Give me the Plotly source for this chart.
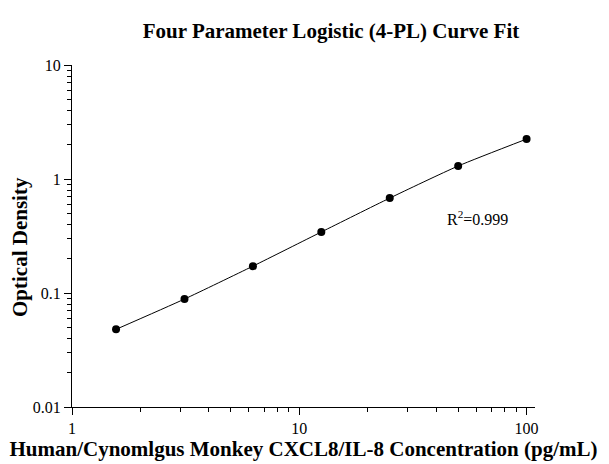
import plotly.graph_objects as go

concentration = [1.5625, 3.125, 6.25, 12.5, 25, 50, 100]
od = [0.048, 0.0885, 0.172, 0.343, 0.68, 1.30, 2.24]

x_major = [1, 10, 100]
x_major_text = ["1", "10", "100"]
y_major = [0.01, 0.1, 1, 10]
y_major_text = ["0.01", "0.1", "1", "10"]
x_minor = [2, 3, 4, 5, 6, 7, 8, 9, 20, 30, 40, 50, 60, 70, 80, 90]
y_minor = [0.02, 0.03, 0.04, 0.05, 0.06, 0.07, 0.08, 0.09,
           0.2, 0.3, 0.4, 0.5, 0.6, 0.7, 0.8, 0.9,
           2, 3, 4, 5, 6, 7, 8, 9]

FONT = "Liberation Serif"

fig = go.Figure()
fig.add_trace(go.Scatter(
    x=concentration, y=od, mode="lines",
    line=dict(color="black", width=1, shape="spline", smoothing=0.6),
    showlegend=False, hoverinfo="skip"))
fig.add_trace(go.Scatter(
    x=concentration, y=od, mode="markers",
    marker=dict(color="black", size=8),
    showlegend=False))

fig.update_layout(
    width=609, height=464,
    margin=dict(l=72, r=74, t=65, b=57),
    plot_bgcolor="white", paper_bgcolor="white",
    font=dict(family=FONT, color="black", size=16),
    title=dict(text="<b>Four Parameter Logistic (4-PL) Curve Fit</b>",
               x=0.5435, xanchor="center", y=0.935, yanchor="middle",
               font=dict(family=FONT, size=21, color="black")),
    xaxis=dict(type="log", range=[0, 2.037], automargin=False,
               tickmode="array", tickvals=x_major, ticktext=x_major_text,
               ticks="outside", ticklen=7, tickwidth=1, tickcolor="black",
               showline=True, linecolor="black", linewidth=1,
               showgrid=False, zeroline=False,
               tickfont=dict(family=FONT, size=16),
               minor=dict(tickmode="array", tickvals=x_minor, ticks="outside",
                          ticklen=4, tickwidth=1, tickcolor="black", showgrid=False),
               title=dict(text="<b>Human/Cynomlgus Monkey CXCL8/IL-8 Concentration (pg/mL)</b>",
                          font=dict(family=FONT, size=21), standoff=5)),
    yaxis=dict(type="log", range=[-2, 1], automargin=False,
               tickmode="array", tickvals=y_major, ticktext=y_major_text,
               ticks="outside", ticklen=7, tickwidth=1, tickcolor="black",
               showline=True, linecolor="black", linewidth=1,
               showgrid=False, zeroline=False,
               tickfont=dict(family=FONT, size=16),
               minor=dict(tickmode="array", tickvals=y_minor, ticks="outside",
                          ticklen=4, tickwidth=1, tickcolor="black", showgrid=False)),
    annotations=[
        dict(text="R<sup>2</sup>=0.999", x=1.64, y=-0.34, xref="x", yref="y",
             showarrow=False, xanchor="left", yanchor="middle",
             font=dict(family=FONT, size=16, color="black")),
        dict(text="<b>Optical Density</b>", x=20 / 609, y=1 - 247 / 464,
             xref="paper", yref="paper", showarrow=False, textangle=-90,
             xanchor="center", yanchor="middle",
             font=dict(family=FONT, size=21, color="black")),
    ],
)
# paper coords are relative to plot area; convert pixel positions
fig.layout.annotations[1].x = (20 - 72) / (609 - 72 - 74)
fig.layout.annotations[1].y = (464 - 57 - 247) / (464 - 65 - 57)

fig.write_html("out.html", config={"displayModeBar": False},
               post_script="document.body.style.margin='0';document.body.style.overflow='hidden';")
